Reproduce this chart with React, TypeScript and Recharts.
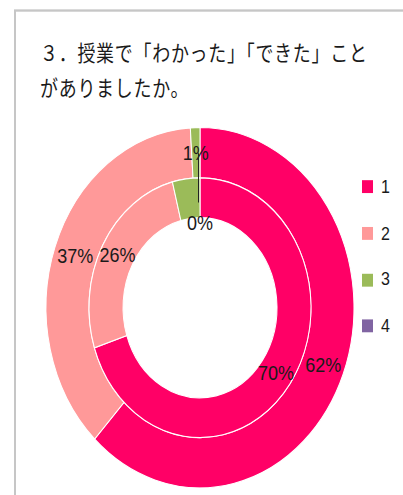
import React from 'react';
import { PieChart, Pie, Cell, Legend } from 'recharts';

const title = ['３．授業で「わかった」「できた」こと', 'がありましたか。'];
const categories = ['1', '2', '3', '4'];
const outerValues = [62, 37, 1, 0];
const innerValues = [70, 26, 4, 0];
const outerLabelShown = [true, true, true, false];
const innerLabelShown = [true, true, false, true];
const colors = ['#FF0066', '#FF9999', '#9BBB59', '#8064A2'];

const outerData = categories.map((name, i) => ({ name, value: outerValues[i] }));
const innerData = categories.map((name, i) => ({ name, value: innerValues[i] }));

const RADIAN = Math.PI / 180;
const SCALE_Y = 1.17;
const W = 403;
const H = 495 / SCALE_Y;

const labelFont = { fontFamily: '"Liberation Sans", Arial, sans-serif', fontSize: 18, fill: '#1a1a1a' };

function makeLabel(shown: boolean[], ring: 'outer' | 'inner') {
  return (props: any) => {
    const { cx, cy, midAngle, innerRadius, outerRadius, value, index } = props;
    if (!shown[index]) return null;
    const zeroInner = ring === 'inner' && value === 0;
    const r = zeroInner ? innerRadius - 4 : (innerRadius + outerRadius) / 2;
    const cos = Math.cos(-midAngle * RADIAN);
    const sin = Math.sin(-midAngle * RADIAN);
    const x = cx + r * cos;
    const y = cy + r * sin;
    return (
      <g key={`${ring}-${index}`}>
        {zeroInner && (
          <line
            x1={cx + (innerRadius + 13) * cos - 1.5}
            y1={cy + (innerRadius + 13) * sin}
            x2={cx + (outerRadius + 21) * cos - 1.5}
            y2={cy + (outerRadius + 21) * sin}
            stroke="#222"
            strokeWidth={1}
          />
        )}
        <text x={x} y={y} textAnchor="middle" dominantBaseline="central" {...labelFont}>
          {`${value}%`}
        </text>
      </g>
    );
  };
}

const renderLegend = (props: any) => {
  const seen = new Set<string>();
  const items = (props.payload || []).filter((p: any) => {
    if (seen.has(p.value)) return false;
    seen.add(p.value);
    return true;
  });
  return (
    <div>
      {items.map((p: any) => (
        <div key={p.value} style={{ display: 'flex', alignItems: 'center', height: 39.7 }}>
          <span style={{ display: 'inline-block', width: 11, height: 11, background: p.color, marginRight: 8 }} />
          <span style={{ fontFamily: '"Liberation Sans", Arial, sans-serif', fontSize: 16, color: '#1a1a1a' }}>{p.value}</span>
        </div>
      ))}
    </div>
  );
};

export default function App() {
  return (
    <div
      style={{
        position: 'absolute',
        left: 0,
        top: 0,
        width: W,
        height: H,
        overflow: 'hidden',
        transform: `scaleY(${SCALE_Y})`,
        transformOrigin: '0 0',
        background: '#fff',
      }}
    >
      <div
        style={{
          position: 'absolute',
          left: 14,
          top: 8,
          width: 600,
          height: 600,
          border: '2px solid #c6c6c6',
          boxSizing: 'border-box',
        }}
      />
      <div
        style={{
          position: 'absolute',
          left: 40,
          top: 29,
          fontFamily: '"Noto Sans CJK JP", sans-serif',
          fontSize: 18,
          lineHeight: '30px',
          letterSpacing: 0.7,
          color: '#1a1a1a',
          whiteSpace: 'nowrap',
        }}
      >
        {title.map((t) => (
          <div key={t}>{t}</div>
        ))}
      </div>
      <div style={{ position: 'absolute', left: 0, top: 0 }}>
        <PieChart width={W} height={H} margin={{ top: 0, right: 0, bottom: 0, left: 0 }}>
          <Pie
            data={outerData}
            dataKey="value"
            nameKey="name"
            cx={200}
            cy={263}
            innerRadius={111}
            outerRadius={154}
            startAngle={90}
            endAngle={-270}
            isAnimationActive={false}
            labelLine={false}
            label={makeLabel(outerLabelShown, 'outer')}
          >
            {outerData.map((d, i) => (
              <Cell key={d.name} fill={colors[i]} stroke="#fff" strokeWidth={1} />
            ))}
          </Pie>
          <Pie
            data={innerData}
            dataKey="value"
            nameKey="name"
            cx={200}
            cy={263}
            innerRadius={77}
            outerRadius={111}
            startAngle={90}
            endAngle={-270}
            isAnimationActive={false}
            labelLine={false}
            label={makeLabel(innerLabelShown, 'inner')}
          >
            {innerData.map((d, i) => (
              <Cell key={d.name} fill={colors[i]} stroke="#fff" strokeWidth={1} />
            ))}
          </Pie>
          <Legend
            layout="vertical"
            verticalAlign="top"
            align="right"
            content={renderLegend}
            wrapperStyle={{ left: 362, top: 140, width: 40 }}
          />
        </PieChart>
      </div>
    </div>
  );
}
